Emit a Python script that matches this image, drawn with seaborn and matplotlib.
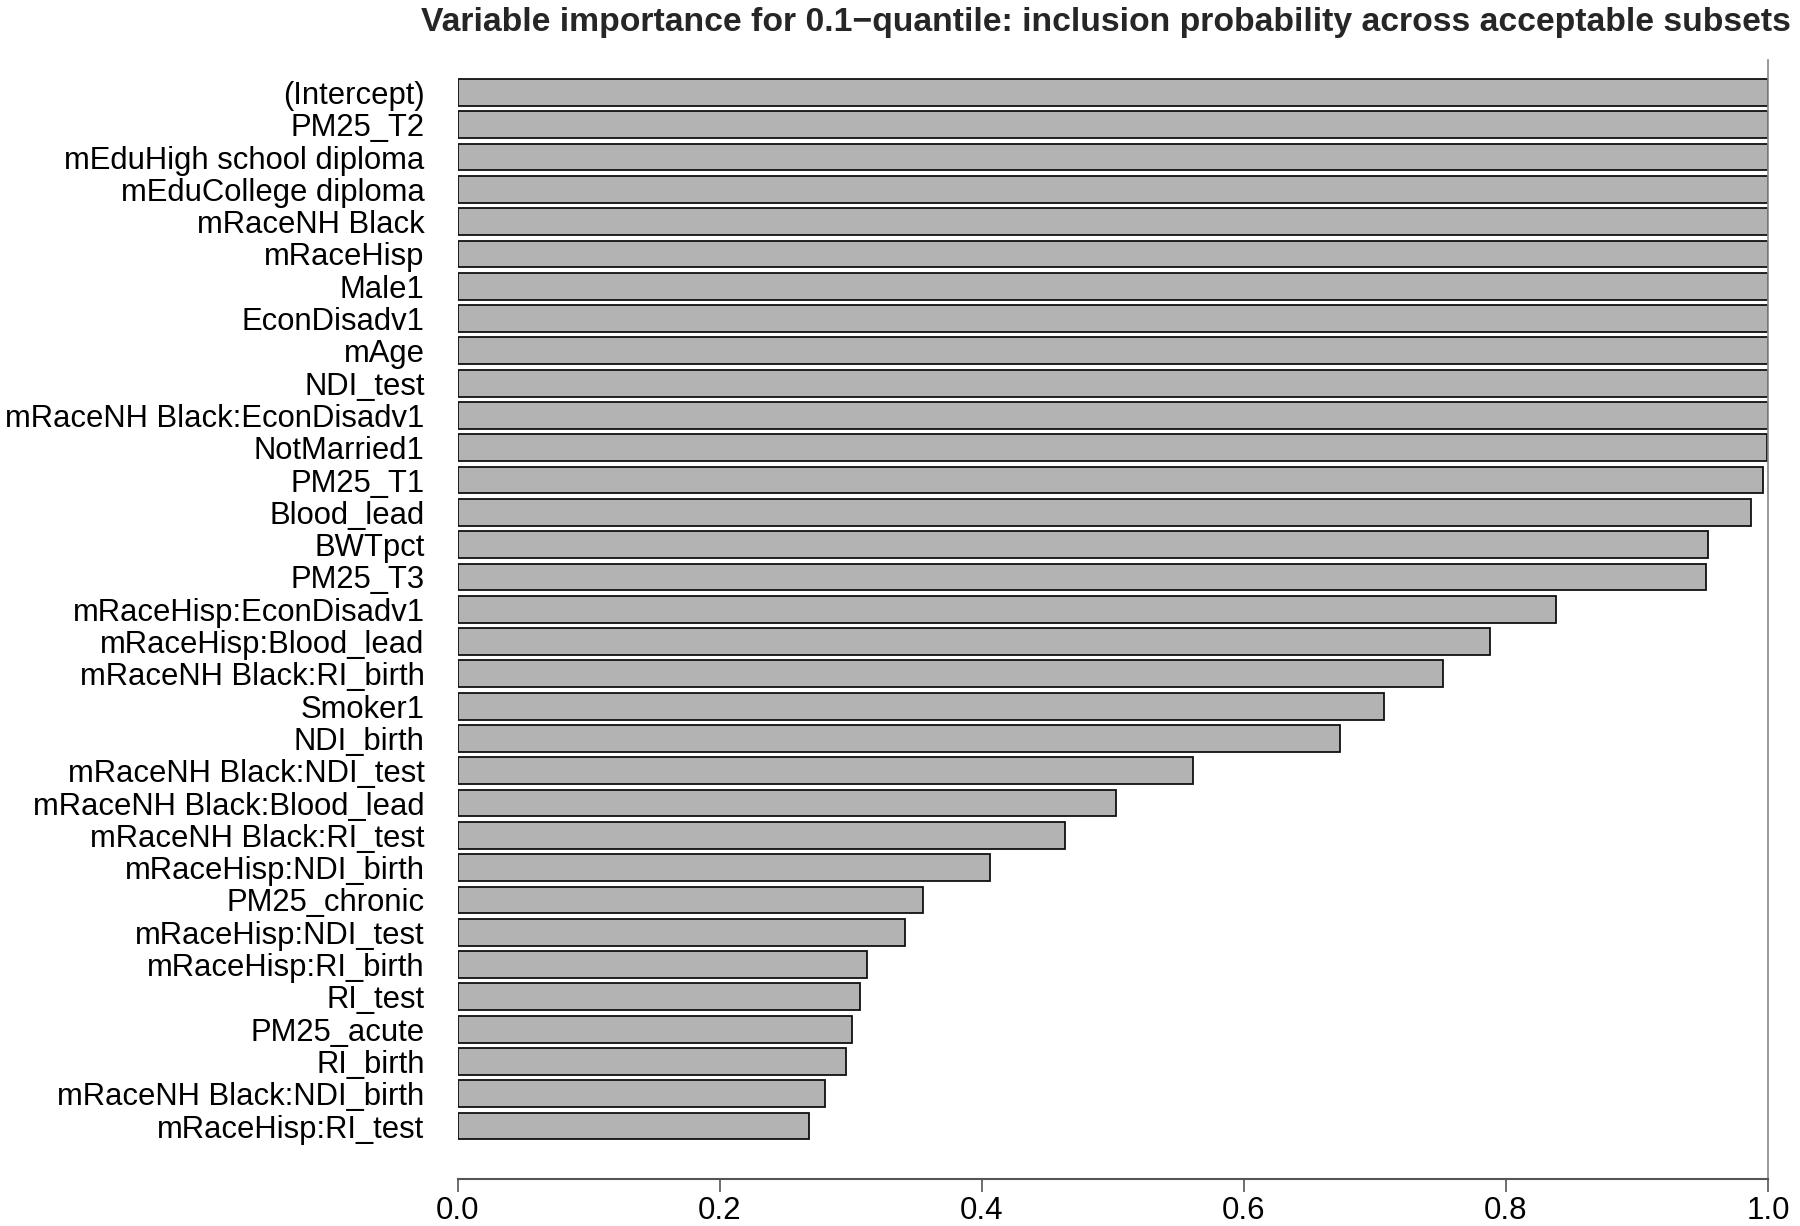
import matplotlib
matplotlib.use("Agg")
import pandas as pd
import seaborn as sns
import matplotlib.pyplot as plt

# inclusion probability of each term, top to bottom as in the chart
terms = [
    "(Intercept)", "PM25_T2", "mEduHigh school diploma", "mEduCollege diploma",
    "mRaceNH Black", "mRaceHisp", "Male1", "EconDisadv1", "mAge", "NDI_test",
    "mRaceNH Black:EconDisadv1", "NotMarried1", "PM25_T1", "Blood_lead", "BWTpct",
    "PM25_T3", "mRaceHisp:EconDisadv1", "mRaceHisp:Blood_lead",
    "mRaceNH Black:RI_birth", "Smoker1", "NDI_birth", "mRaceNH Black:NDI_test",
    "mRaceNH Black:Blood_lead", "mRaceNH Black:RI_test", "mRaceHisp:NDI_birth",
    "PM25_chronic", "mRaceHisp:NDI_test", "mRaceHisp:RI_birth", "RI_test",
    "PM25_acute", "RI_birth", "mRaceNH Black:NDI_birth", "mRaceHisp:RI_test",
]
probs = [
    1.0, 1.0, 1.0, 1.0, 1.0, 1.0, 1.0, 1.0, 1.0, 1.0,
    1.0, 0.999, 0.9965, 0.987, 0.954, 0.953, 0.838, 0.788,
    0.752, 0.707, 0.673, 0.561, 0.502, 0.463, 0.406,
    0.355, 0.341, 0.312, 0.307, 0.301, 0.296, 0.280, 0.268,
]
xticks = [0.0, 0.2, 0.4, 0.6, 0.8, 1.0]
title = "Variable importance for 0.1\u2212quantile: inclusion probability across acceptable subsets"

df = pd.DataFrame({"term": terms, "prob": probs})

sns.set_style("white")
plt.rcParams["font.family"] = ["Liberation Sans", "DejaVu Sans"]

fig = plt.figure(figsize=(18, 12.26), dpi=100)
ax = fig.add_axes([458 / 1800, 1 - 1179 / 1226, 1310 / 1800, 1119 / 1226])

sns.barplot(data=df, x="prob", y="term", orient="h", color="#b3b3b3",
            saturation=1, width=0.83, edgecolor="#111111", linewidth=1.3, ax=ax)

ax.set_xlim(0, 1)
ax.set_ylim(33.64, -1.006)
ax.set_xlabel("")
ax.set_ylabel("")
ax.set_xticks(xticks)
ax.set_xticklabels([f"{t:.1f}" for t in xticks])

for s in ["top", "left"]:
    ax.spines[s].set_visible(False)
ax.spines["right"].set_color("#888888")
ax.spines["right"].set_linewidth(1.2)
ax.spines["bottom"].set_color("#555555")
ax.spines["bottom"].set_linewidth(1.5)

ax.tick_params(axis="x", length=9, width=1.2, color="#555555", pad=3,
               labelsize=22.5, labelcolor="black", bottom=True)
ax.tick_params(axis="y", length=0, pad=24, labelsize=22.3, labelcolor="black")

fig.text(0.6145, 1 - 23 / 1226, title, ha="center", va="center",
         fontsize=24.3, fontweight="bold")

fig.savefig("out.png", dpi=100)
